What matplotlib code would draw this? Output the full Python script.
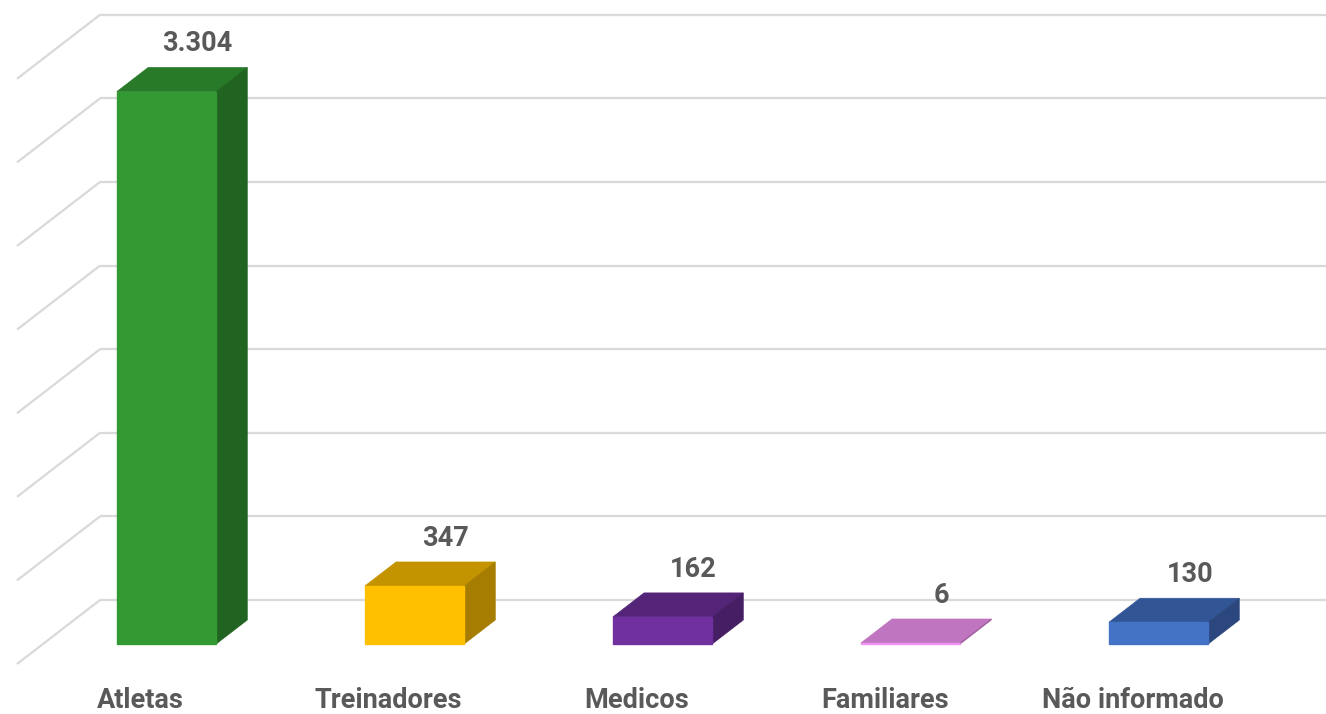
import matplotlib
matplotlib.use("Agg")
import matplotlib.pyplot as plt
from matplotlib.patches import Polygon

# ---- data ----
categories = ["Atletas", "Treinadores", "Medicos", "Familiares", "Não informado"]
values = [3304, 347, 162, 6, 130]
value_labels = ["3.304", "347", "162", "6", "130"]
grid_values = [0, 500, 1000, 1500, 2000, 2500, 3000, 3500]

front_colors = ["#339933", "#FFC000", "#7030A0", "#C275C2", "#4472C4"]
top_colors = ["#287A28", "#C49300", "#542478", "#C075C0", "#325595"]
side_colors = ["#216421", "#A67D00", "#461E63", "#A060A0", "#2B477D"]
edge_colors = ["#339933", "#FFC000", "#7030A0", "#F090F0", "#4472C4"]

# ---- pseudo-3D geometry (layout constants) ----
W, H, DPI = 1326, 714, 100
px_per_cat = 248.0
px_per_val = 83.6 / 500.0
DX = 83.0 / px_per_cat          # full floor depth, in category units
DY = 64.0 / px_per_val          # full floor depth, in value units
d0, d1 = 0.3125, 0.6875          # bar front / back depth
bw = 0.40                        # bar width in category units

x_origin_px = 140.6
y_zero_px = 664.0
xlim = (-x_origin_px / px_per_cat, (W - x_origin_px) / px_per_cat)
ylim = (-(H - y_zero_px) / px_per_val, y_zero_px / px_per_val)


def P(x, v, d):
    return (x + d * DX, v + d * DY)


fig = plt.figure(figsize=(W / DPI, H / DPI), dpi=DPI)
ax = fig.add_axes([0, 0, 1, 1])
ax.set_xlim(*xlim)
ax.set_ylim(*ylim)
ax.axis("off")

grid_c = "#D9D9D9"
left_x = -(x_origin_px - 17) / px_per_cat
for g in grid_values:
    x_a, y_a = P(left_x, g, 0)
    x_b, y_b = P(left_x, g, 1)
    ax.plot([x_a, x_b], [y_a, y_b], color=grid_c, lw=1.6, solid_capstyle="butt", zorder=1)
    ax.plot([x_b, xlim[1] + 1], [y_b, y_b], color=grid_c, lw=1.6, solid_capstyle="butt", zorder=1)

font = dict(family=["Roboto", "DejaVu Sans"], fontweight="bold", color="#595959")

for i, (cat, v) in enumerate(zip(categories, values)):
    xl, xr = i - bw / 2, i + bw / 2
    top = Polygon([P(xl, v, d0), P(xr, v, d0), P(xr, v, d1), P(xl, v, d1)],
                  closed=True, facecolor=top_colors[i], edgecolor=top_colors[i], lw=0.5, zorder=3)
    side = Polygon([P(xr, 0, d0), P(xr, 0, d1), P(xr, v, d1), P(xr, v, d0)],
                   closed=True, facecolor=side_colors[i], edgecolor=side_colors[i], lw=0.5, zorder=3)
    front = Polygon([P(xl, 0, d0), P(xr, 0, d0), P(xr, v, d0), P(xl, v, d0)],
                    closed=True, facecolor=front_colors[i], edgecolor=edge_colors[i], lw=1.0, zorder=4)
    ax.add_patch(top)
    ax.add_patch(side)
    ax.add_patch(front)

    lx, ly = P(i, v, d1)
    ax.annotate(value_labels[i], (lx, ly), xytext=(0, 17), textcoords="offset points",
                ha="center", va="center", fontsize=19.5, zorder=5, **font)

    cx, cy = P(i, 0, 0)
    ax.annotate(cat, (cx, cy), xytext=(0, -26), textcoords="offset points",
                ha="center", va="center", fontsize=19.5, zorder=5, **font)

fig.savefig("out.png", dpi=DPI, facecolor="white")
